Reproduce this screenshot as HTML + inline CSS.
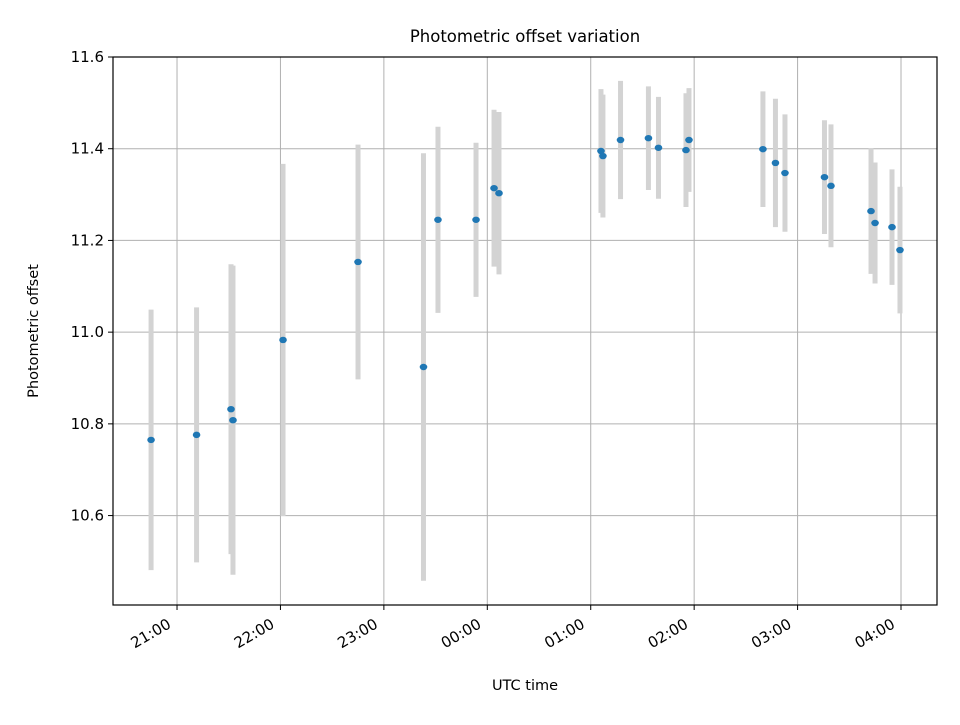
<!DOCTYPE html>
<html><head><meta charset="utf-8"><style>
body{margin:0;background:#fff;font-family:"Liberation Sans","DejaVu Sans",sans-serif}
svg text{font-family:"DejaVu Sans","Liberation Sans",sans-serif;fill:#000}
</style></head><body>
<svg id="chart" width="960" height="720" viewBox="0 0 960 720" xmlns="http://www.w3.org/2000/svg">
<rect width="960" height="720" fill="#fff"/>
<g id="grid"></g>
<g id="errs"></g>
<g id="pts"></g>
<rect x="113" y="57" width="824" height="548" fill="none" stroke="#000" stroke-width="1.2"/>
<g id="axes"></g>
<text x="525" y="42" font-size="16.5" text-anchor="middle">Photometric offset variation</text>
<text x="525" y="690" font-size="14.5" text-anchor="middle">UTC time</text>
<text transform="translate(38,331) rotate(-90)" font-size="14.5" text-anchor="middle">Photometric offset</text>
</svg>
<script>
// hours relative to 21:00 UTC
const times = [-0.251,0.189,0.522,0.541,1.025,1.750,2.383,2.523,2.891,3.065,3.113,4.099,4.118,4.288,4.558,4.655,4.921,4.950,5.665,5.786,5.878,6.260,6.323,6.710,6.749,6.913,6.990];
const offsets = [10.765,10.776,10.832,10.808,10.983,11.153,10.924,11.245,11.245,11.314,11.303,11.395,11.384,11.419,11.423,11.402,11.397,11.419,11.399,11.369,11.347,11.338,11.319,11.264,11.238,11.229,11.179];
const errors = [0.284,0.278,0.316,0.337,0.384,0.256,0.466,0.203,0.168,0.171,0.177,0.135,0.134,0.129,0.113,0.111,0.124,0.113,0.126,0.140,0.128,0.124,0.134,0.137,0.132,0.126,0.138];
const xTicks = [0,1,2,3,4,5,6,7];
const xTickLabels = ["21:00","22:00","23:00","00:00","01:00","02:00","03:00","04:00"];
const yTicks = [10.6,10.8,11.0,11.2,11.4,11.6];
const yTickLabels = ["10.6","10.8","11.0","11.2","11.4","11.6"];

const L=113,R=937,T=57,B=605;
const xMin=-0.619,xMax=7.348,yMin=10.405,yMax=11.6;
const X=v=>L+(v-xMin)/(xMax-xMin)*(R-L);
const Y=v=>B-(v-yMin)/(yMax-yMin)*(B-T);
const NS="http://www.w3.org/2000/svg";
function mk(tag,attrs,parent){const e=document.createElementNS(NS,tag);for(const k in attrs)e.setAttribute(k,attrs[k]);parent.appendChild(e);return e;}
const grid=document.getElementById('grid'),axes=document.getElementById('axes'),errs=document.getElementById('errs'),pts=document.getElementById('pts');
xTicks.forEach((t,i)=>{
  const x=X(t);
  const g=mk('line',{x1:x,x2:x,y1:T,y2:B,stroke:'#b0b0b0','stroke-width':1},grid);
  
  
  const tk=mk('line',{x1:x,x2:x,y1:B,y2:B+5,stroke:'#000','stroke-width':1},axes);
  
  
  const tx=mk('text',{transform:`translate(${x-5},${B+22}) rotate(-30)`,'font-size':15,'text-anchor':'end'},axes);
  tx.textContent=xTickLabels[i];
  
  
});
yTicks.forEach((v,i)=>{
  const y=Y(v);
  const g=mk('line',{x1:L,x2:R,y1:y,y2:y,stroke:'#b0b0b0','stroke-width':1},grid);
  
  
  const tk=mk('line',{x1:L-5,x2:L,y1:y,y2:y,stroke:'#000','stroke-width':1},axes);
  
  
  const tx=mk('text',{x:L-9,y:y+5,'font-size':15,'text-anchor':'end'},axes);
  tx.textContent=yTickLabels[i];
  
  
});
times.forEach((t,i)=>{
  const x=X(t);
  const e=mk('line',{x1:x,x2:x,y1:Y(offsets[i]+errors[i]),y2:Y(offsets[i]-errors[i]),stroke:'#d3d3d3','stroke-width':5},errs);
  
  
  const p=mk('ellipse',{cx:x,cy:Y(offsets[i]),rx:3.8,ry:3.2,fill:'#1f77b4'},pts);
  
  
});
</script>
</body></html>
